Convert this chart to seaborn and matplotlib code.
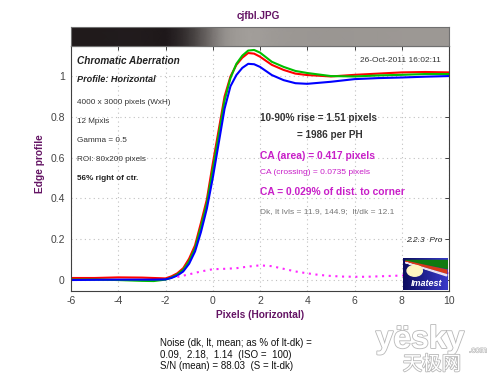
import numpy as np
import pandas as pd
import matplotlib
matplotlib.use("Agg")
import matplotlib.pyplot as plt
import matplotlib.colors as mcolors
import matplotlib.patheffects as pe
from matplotlib.patches import Polygon, Circle
import seaborn as sns

# edge profile
px = [-6, -5, -4, -3, -2.5, -2, -1.75, -1.5, -1.25, -1, -0.75, -0.5, -0.25, 0,
      0.25, 0.5, 0.75, 1, 1.25, 1.5, 1.75, 2, 2.5, 3, 3.5, 4, 5, 6, 7, 8, 9, 10]
red = [0.010, 0.010, 0.013, 0.012, 0.010, 0.008, 0.018, 0.033, 0.058, 0.105, 0.17, 0.28,
       0.395, 0.57, 0.735, 0.90, 0.998, 1.055, 1.09, 1.113, 1.11, 1.095, 1.055, 1.03,
       1.012, 1.005, 0.998, 1.006, 1.012, 1.018, 1.02, 1.018]
green = [0.002, 0.002, 0.0, -0.004, -0.005, 0.002, 0.012, 0.027, 0.05, 0.092, 0.155, 0.26,
         0.375, 0.54, 0.71, 0.88, 0.99, 1.06, 1.10, 1.125, 1.128, 1.115, 1.07, 1.045,
         1.025, 1.015, 1.0, 0.998, 1.003, 1.006, 1.01, 1.01]
blue = [0.000, 0.001, 0.002, 0.002, 0.002, 0.003, 0.010, 0.022, 0.042, 0.080, 0.14, 0.235,
        0.35, 0.50, 0.67, 0.84, 0.95, 1.005, 1.04, 1.06, 1.058, 1.045, 1.005, 0.98,
        0.965, 0.962, 0.972, 0.985, 0.99, 0.993, 0.997, 1.0]

# CA difference curve (dotted magenta)
ca_x = [-1.5, -1, -0.5, 0, 0.5, 1, 1.5, 2, 2.5, 3, 3.5, 4, 4.5, 5, 5.5, 6, 6.5, 7,
        7.5, 8, 8.5, 9, 9.5, 10]
ca_y = [0.015, 0.028, 0.042, 0.053, 0.055, 0.058, 0.066, 0.072, 0.068, 0.055, 0.042,
        0.033, 0.025, 0.020, 0.017, 0.016, 0.016, 0.018, 0.020, 0.022, 0.025, 0.028,
        0.031, 0.034]

xticks = [-6, -4, -2, 0, 2, 4, 6, 8, 10]
yticks = [0, 0.2, 0.4, 0.6, 0.8, 1]
yticklabels = ["0", "0.2", "0.4", "0.6", "0.8", "1"]

left_info = ["4000 x 3000 pixels (WxH)", "12 Mpxls", "Gamma = 0.5", "ROI: 80x200 pixels"]
noise_lines = ["Noise (dk, lt, mean; as % of lt-dk) =",
               "0.09,  2.18,  1.14  (ISO =  100)",
               "S/N (mean) = 88.03  (S = lt-dk)"]

df = pd.DataFrame({
    "x": px * 3,
    "edge": red + green + blue,
    "channel": ["R"] * len(px) + ["G"] * len(px) + ["B"] * len(px),
})

sns.set_style("white")
plt.rcParams["font.family"] = ["Liberation Sans", "Noto Sans CJK SC", "DejaVu Sans"]
plt.rcParams["axes.unicode_minus"] = False

purple = "#641464"
magenta = "#c81ec8"
txt = "#444444"

fig = plt.figure(figsize=(5, 3.84), dpi=100)
ax = fig.add_axes([0.142, 0.241, 0.756, 0.639])
bar = fig.add_axes([0.142, 0.880, 0.756, 0.049])

# grey strip showing the edge itself
cmap = mcolors.LinearSegmentedColormap.from_list("edge", ["#120c0e", "#a29e9a"])
bar.pcolormesh(np.array(px), np.array([0, 1]), np.vstack([red, red]), shading="gouraud",
               cmap=cmap, norm=mcolors.PowerNorm(gamma=0.5, vmin=0, vmax=1.12))
bar.set_xlim(-6, 10)
bar.set_ylim(0, 1)
bar.set_xticks([])
bar.set_yticks([])
for s in bar.spines.values():
    s.set_color("#707070")
    s.set_linewidth(0.8)

ax.grid(True, color="#c0c0c0", linestyle=(0, (1, 3)), linewidth=0.8)
sns.lineplot(data=df, x="x", y="edge", hue="channel", hue_order=["R", "G", "B"],
             palette={"R": "#ff0000", "G": "#00c000", "B": "#0000ff"},
             estimator=None, sort=False, linewidth=1.5, legend=False, ax=ax)
sns.lineplot(x=ca_x, y=ca_y, color="#ff28ff", linestyle=(0, (1, 2.2)), linewidth=1.5, ax=ax)

ax.set_xlim(-6, 10)
ax.set_ylim(-0.056, 1.147)
ax.set_xticks(xticks)
ax.set_yticks(yticks)
ax.set_yticklabels(yticklabels)
ax.tick_params(direction="in", length=3, width=0.7, color="#404040", labelcolor=txt,
               labelsize=7.5, top=True, right=True, pad=3)
ax.tick_params(axis="y", pad=4.5)
for s in ax.spines.values():
    s.set_color("#404040")
    s.set_linewidth(0.8)

ax.set_xlabel("Pixels (Horizontal)", fontsize=7.3, fontweight="bold", color=purple, labelpad=3)
ax.set_ylabel("Edge profile", fontsize=7.3, fontweight="bold", color=purple)
ax.yaxis.set_label_coords(-0.068, 0.52)
fig.text(0.516, 0.958, "cjfbl.JPG", ha="center", va="center", fontsize=7.2,
         fontweight="bold", color=purple)

# text inside the plot, placed in figure pixels
def ftext(x, y, s, **kw):
    fig.text(x / 500, 1 - y / 384, s, va="center", **kw)

ftext(77, 61, "Chromatic Aberration", fontsize=7.2, fontweight="bold", style="italic", color="#222222")
ftext(77, 79, "Profile: Horizontal", fontsize=6.6, fontweight="bold", style="italic", color="#222222")
for i, s in enumerate(left_info):
    ftext(77, 103 + i * 18.8, s, fontsize=5.9, color="#333333")
ftext(77, 178, "56% right of ctr.", fontsize=5.9, fontweight="bold", color="#222222")
ftext(441, 61, "26-Oct-2011 16:02:11", fontsize=6, color="#333333", ha="right")

ftext(260, 118, "10-90% rise = 1.51 pixels", fontsize=7.2, fontweight="bold", color="#333333")
ftext(297, 135, "= 1986 per PH", fontsize=7.2, fontweight="bold", color="#333333")
ftext(260, 156, "CA (area) = 0.417 pixels", fontsize=7.4, fontweight="bold", color=magenta)
ftext(260, 173, "CA (crossing) = 0.0735 pixels", fontsize=6, color=magenta)
ftext(260, 192, "CA = 0.029% of dist. to corner", fontsize=7.4, fontweight="bold", color=magenta)
ftext(260, 212, "Dk, lt lvls = 11.9, 144.9;  lt/dk = 12.1", fontsize=6, color="#777777")
ftext(442, 240, "2.2.3  Pro", fontsize=6, style="italic", color="#222222", ha="right")

for i, s in enumerate(noise_lines):
    ftext(160, 343 + i * 11.5, s, fontsize=7, color="#111111")

# Imatest logo
logo = fig.add_axes([403 / 500, 1 - 290 / 384, 45 / 500, 32 / 384])
logo.imshow(np.linspace(0, 1, 50).reshape(1, -1), aspect="auto", extent=(0, 1, 0, 1),
            cmap=mcolors.LinearSegmentedColormap.from_list("lg", ["#0c0c60", "#3838c8"]))
logo.add_patch(Polygon([[0.05, 0.95], [0.97, 0.95], [0.97, 0.7]], color="#107a10"))
logo.add_patch(Polygon([[0.05, 0.9], [0.97, 0.62], [0.97, 0.52]], color="#d83a1a"))
logo.add_patch(Polygon([[0.05, 0.86], [0.97, 0.48], [0.97, 0.44]], color="#e8e0f0"))
logo.add_patch(Circle((0.26, 0.6), 0.17, color="#fdf5c0", transform=logo.transData))
logo.text(0.53, 0.2, "Imatest", color="white", fontsize=6.5, fontweight="bold",
          style="italic", ha="center", va="center")
logo.set_xlim(0, 1)
logo.set_ylim(0, 1)
logo.axis("off")

# watermark
halo = [pe.withStroke(linewidth=1.2, foreground="#b8b8b8")]
fig.text(420 / 500, 1 - 340 / 384, "yësky", fontsize=23, fontweight="bold", color="white",
         ha="center", va="center", path_effects=halo)
fig.text(432 / 500, 1 - 365 / 384, "天极网", fontsize=14, color="white", ha="center",
         va="center", path_effects=halo)
fig.text(478 / 500, 1 - 351 / 384, ".com", fontsize=6, color="white", ha="center",
         va="center", path_effects=[pe.withStroke(linewidth=0.8, foreground="#b8b8b8")])

fig.savefig("out.png", dpi=100)
